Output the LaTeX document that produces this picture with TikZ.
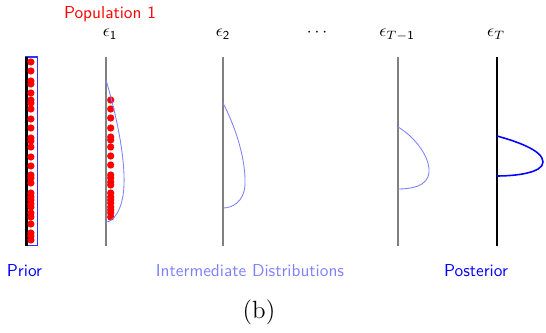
\documentclass[tikz,border=0pt]{standalone}
\usepackage{xcolor}
\begin{document}
\begin{tikzpicture}[x=0.578pt,y=-0.578pt,
  axisline/.style={gray,line width=1.1pt},
  darkline/.style={black,line width=1.4pt},
  dot/.style={circle,fill=red,inner sep=0pt,minimum size=4.2pt},
  lbl/.style={font=\sffamily,inner sep=0pt,anchor=base},
  midcurve/.style={blue!50,line width=0.5pt},
]
\useasboundingbox (0,0) rectangle (546,332);
% Prior
\draw[blue!80,line width=0.6pt] (26,57) rectangle (37.5,245.5);
\draw[darkline] (26.5,57) coordinate (p0) -- (26.5,246) coordinate (p1);
\foreach \y [count=\i] in {62,71,81,84,93,100,103,109,119,128,138,141,147,157,166,175,178,183,193,197,200,204,207,213,217,224,233,236,240}
  \node[dot] (pd\i) at (30.9,\y) {};
% Population 1
\draw[axisline] (106,57) coordinate (a0) -- (106,246) coordinate (a1);
\foreach \y [count=\i] in {100,109,118,128,137,140,147,156,165,175,178,182,185,193,197,200,203,207,210,213,217}
  \node[dot] (ad\i) at (110.7,\y) {};
\draw[midcurve] (106,80) .. controls (118,120) and (125,160) .. (124,185) .. controls (123,212) and (112,222) .. (106,222);
% eps 2
\draw[axisline] (223,57) coordinate (b0) -- (223,246) coordinate (b1);
\draw[midcurve] (223,103) .. controls (236,128) and (246,160) .. (245,185) .. controls (244,202) and (232,208) .. (223,208);
% eps T-1
\draw[axisline] (398,57) coordinate (c0) -- (398,246) coordinate (c1);
\draw[midcurve] (398,127) .. controls (412,135) and (430,155) .. (429,172) .. controls (428,187) and (410,189) .. (398,189);
% Posterior
\draw[black,line width=1.6pt] (497,57) coordinate (d0) -- (497,246) coordinate (d1);
\draw[blue,line width=0.9pt] (497,136) .. controls (515,141) and (543,150) .. (543,162) .. controls (543,173) and (515,176) .. (497,176);
% labels
\node[lbl,text=red] (pop) at (110,19) {Population 1};
\node[lbl] (e1) at (110,37) {$\epsilon_{\mathsf{1}}$};
\node[lbl] (e2) at (223,37) {$\epsilon_{\mathsf{2}}$};
\node[lbl] (edots) at (317,37) {$\cdots$};
\node[lbl] (eT1) at (397,37) {$\epsilon_{T-\mathsf{1}}$};
\node[lbl] (eT) at (496,37) {$\epsilon_T$};
\node[lbl,text=blue] (prior) at (24.5,276) {Prior};
\node[lbl,text=blue!50] (inter) at (250,276) {Intermediate Distributions};
\node[lbl,text=blue] (post) at (476,276) {Posterior};
\node[inner sep=0pt,anchor=base,font=\Large] (cap) at (259,318) {(b)};
\end{tikzpicture}
\end{document}
